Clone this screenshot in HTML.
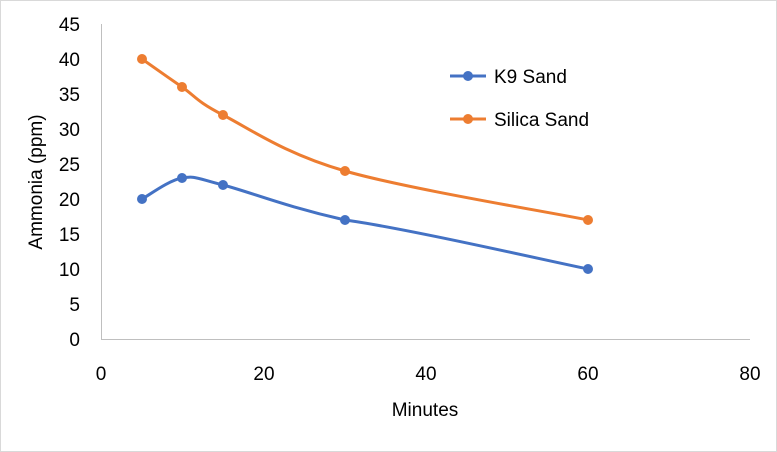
<!DOCTYPE html>
<html><head><meta charset="utf-8"><style>
html,body{margin:0;padding:0;background:#fff}
svg{display:block}
text{font-family:"Liberation Sans",Arial,sans-serif;fill:#000}
</style></head><body>
<svg width="777" height="452" viewBox="0 0 777 452">
<rect x="0.5" y="0.5" width="776" height="451" fill="#fff" stroke="#d9d9d9"/>
<line x1="101" y1="339.5" x2="750" y2="339.5" stroke="#bfbfbf" stroke-width="1"/>
<line x1="101.5" y1="24" x2="101.5" y2="340" stroke="#bfbfbf" stroke-width="1"/>
<g font-size="19" text-anchor="end">
<text x="80" y="346">0</text><text x="80" y="311">5</text><text x="80" y="276">10</text>
<text x="80" y="241">15</text><text x="80" y="206">20</text><text x="80" y="171">25</text>
<text x="80" y="136">30</text><text x="80" y="101">35</text><text x="80" y="66">40</text>
<text x="80" y="31">45</text>
</g>
<g font-size="19" text-anchor="middle">
<text x="101" y="380">0</text><text x="264" y="380">20</text><text x="426" y="380">40</text>
<text x="588" y="380">60</text><text x="750" y="380">80</text>
<text x="425" y="416">Minutes</text>
</g>
<text font-size="19" text-anchor="middle" transform="translate(42,182) rotate(-90)">Ammonia (ppm)</text>
<path d="M142,59 C148.7,63.7 168.5,77.7 182,87 C195.5,96.3 195.8,101 223,115 C250.2,129 284.2,153.5 345,171 C405.8,188.5 547.5,211.8 588,220" fill="none" stroke="#ed7d31" stroke-width="3"/>
<path d="M142,199 C148.7,195.5 168.5,180.3 182,178 C195.5,175.7 195.8,178 223,185 C250.2,192 284.2,206.3 345,220 C405.8,228.2 547.5,260.8 588,269" fill="none" stroke="#4472c4" stroke-width="3"/>
<g fill="#ed7d31"><circle cx="142" cy="59" r="5"/><circle cx="182" cy="87" r="5"/><circle cx="223" cy="115" r="5"/><circle cx="345" cy="171" r="5"/><circle cx="588" cy="220" r="5"/></g>
<g fill="#4472c4"><circle cx="142" cy="199" r="5"/><circle cx="182" cy="178" r="5"/><circle cx="223" cy="185" r="5"/><circle cx="345" cy="220" r="5"/><circle cx="588" cy="269" r="5"/></g>
<line x1="450" y1="76" x2="486" y2="76" stroke="#4472c4" stroke-width="3"/><circle cx="468" cy="76" r="5" fill="#4472c4"/>
<text x="494" y="83" font-size="19">K9 Sand</text>
<line x1="450" y1="119" x2="486" y2="119" stroke="#ed7d31" stroke-width="3"/><circle cx="468" cy="119" r="5" fill="#ed7d31"/>
<text x="494" y="126" font-size="19">Silica Sand</text>
</svg>
</body></html>
